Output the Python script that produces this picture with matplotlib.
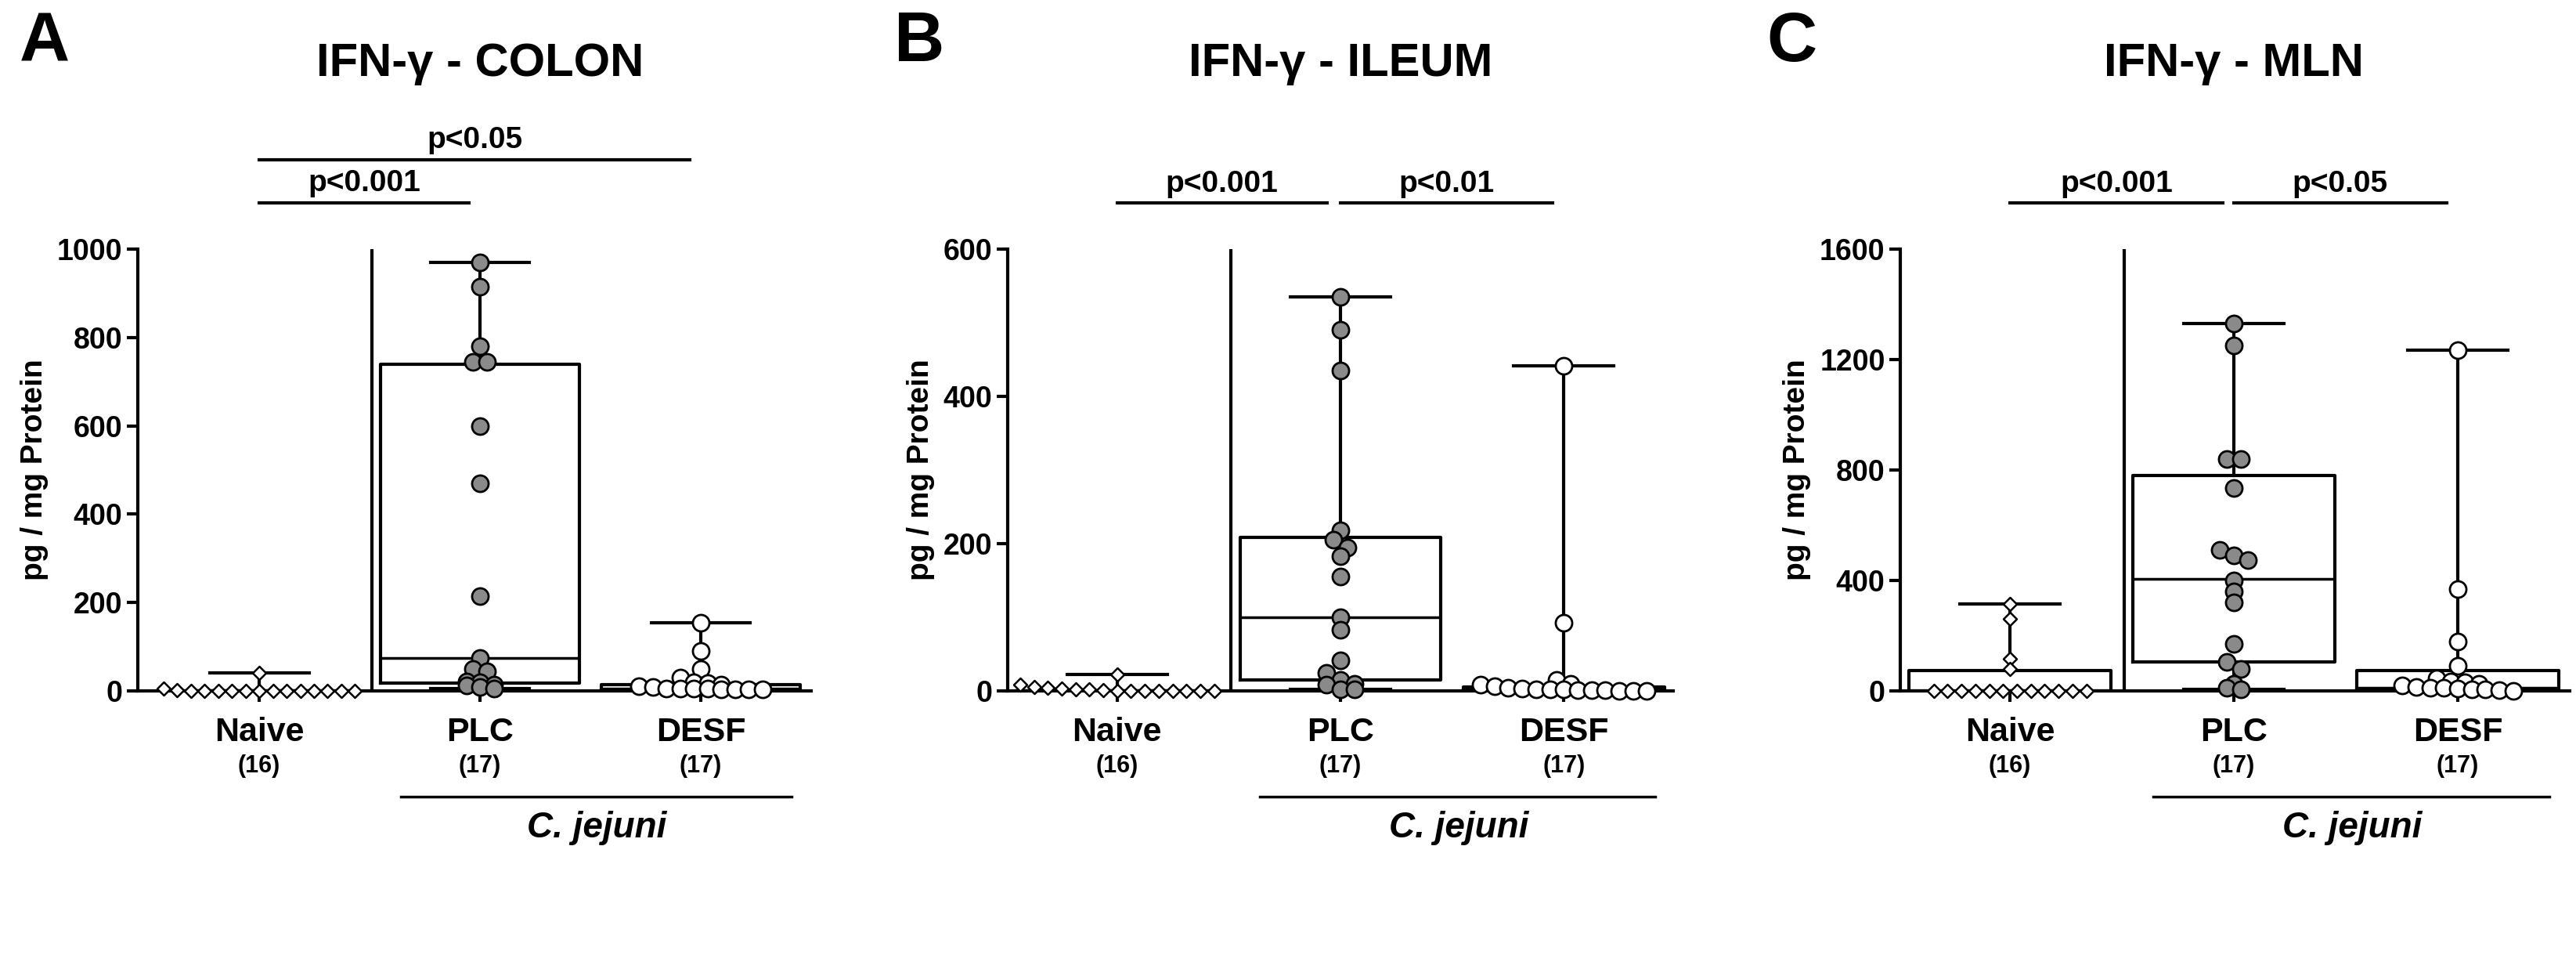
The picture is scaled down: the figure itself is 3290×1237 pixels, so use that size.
import matplotlib
matplotlib.use("Agg")
import matplotlib.pyplot as plt
import numpy as np
from matplotlib.transforms import blended_transform_factory as btf

plt.rcParams['font.family'] = ['Liberation Sans', 'DejaVu Sans']
plt.rcParams['font.weight'] = 'bold'

categories = ["Naive", "PLC", "DESF"]
counts = ["(16)", "(17)", "(17)"]
titles = ["IFN-\u03b3 - COLON", "IFN-\u03b3 - ILEUM", "IFN-\u03b3 - MLN"]
letters = ["A", "B", "C"]
ymax = [1000, 600, 1600]
yticks = [[0, 200, 400, 600, 800, 1000], [0, 200, 400, 600], [0, 400, 800, 1200, 1600]]

# raw points
colon_naive = [40, 5, 2] + [0] * 13
colon_plc = [970, 915, 780, 745, 745, 600, 470, 215, 75, 50, 45, 22, 20, 15, 12, 8, 5]
colon_desf = [155, 90, 50, 30, 20, 18, 15, 10, 8, 6, 5, 5, 5, 4, 4, 3, 3]
ileum_naive = [22, 8, 5, 4, 3, 2, 2, 1] + [0] * 8
ileum_plc = [535, 490, 435, 218, 205, 195, 183, 155, 100, 83, 42, 25, 15, 10, 8, 2, 2]
ileum_desf = [442, 93, 15, 10, 8, 6, 4, 3, 2, 2, 2, 1, 1, 1, 0, 0, 0]
mln_naive = [315, 260, 115, 80] + [0] * 12
mln_plc = [1330, 1250, 840, 840, 735, 510, 490, 475, 400, 360, 320, 170, 105, 80, 25, 10, 5]
mln_desf = [1235, 370, 180, 90, 45, 35, 30, 25, 20, 15, 10, 10, 8, 5, 5, 2, 0]

# box stats: whislo, q1, median, q3, whishi
colon_box = [[0, 0, 0, 0, 40], [5, 18, 75, 740, 970], [0, 2, 5, 15, 155]]
ileum_box = [[0, 0, 0, 0, 22], [2, 15, 100, 208, 535], [0, 1, 2, 5, 442]]
mln_box = [[0, 0, 0, 75, 315], [5, 105, 405, 780, 1330], [0, 5, 12, 75, 1235]]

points = [[colon_naive, colon_plc, colon_desf],
          [ileum_naive, ileum_plc, ileum_desf],
          [mln_naive, mln_plc, mln_desf]]
boxes = [colon_box, ileum_box, mln_box]

# significance: (x1, x2, y_axes, text)
sigs = [[(0, 0.95, 1.105, "p<0.001"), (0, 1.95, 1.203, "p<0.05")],
        [(0, 0.94, 1.104, "p<0.001"), (1.0, 1.95, 1.104, "p<0.01")],
        [(0, 0.95, 1.104, "p<0.001"), (1.0, 1.95, 1.104, "p<0.05")]]

axes_pos = [(176, 1036, -0.55, 2.5), (1287, 2137, -0.49, 2.49), (2427, 3282, -0.49, 2.5)]
letter_x = [25, 1142, 2256]
W, H = 3291, 1237

fig = plt.figure(figsize=(W / 100, H / 100), dpi=100)
bottom = 1 - 882 / H
top = 1 - 318 / H


def offsets(vals, ym):
    vals = np.asarray(vals, float)
    bins = np.round(vals / (ym * 0.028)).astype(int)
    off = np.zeros(len(vals))
    for b in np.unique(bins):
        idx = np.where(bins == b)[0]
        n = len(idx)
        off[idx] = (np.arange(n) - (n - 1) / 2) * 0.062
    return off


for p in range(3):
    l, r, x0, x1 = axes_pos[p]
    ax = fig.add_axes([l / W, bottom, (r - l) / W, top - bottom])

    stats = []
    for i, b in enumerate(boxes[p]):
        stats.append(dict(whislo=b[0], q1=b[1], med=b[2], q3=b[3], whishi=b[4], fliers=[]))
    ax.bxp(stats, positions=[0, 1, 2], widths=0.9, showfliers=False, manage_ticks=False,
           boxprops=dict(linewidth=3, color='black'),
           medianprops=dict(linewidth=2.5, color='black'),
           whiskerprops=dict(linewidth=3, color='black'),
           capprops=dict(linewidth=3, color='black'), capwidths=0.45, zorder=2)

    ax.set_xlim(x0, x1)
    ax.set_ylim(0, ymax[p])
    for s in ['top', 'right']:
        ax.spines[s].set_visible(False)
    ax.spines['left'].set_linewidth(3)
    ax.spines['bottom'].set_linewidth(3)
    ax.set_yticks(yticks[p])
    ax.set_yticklabels([str(v) for v in yticks[p]], fontweight='bold')
    ax.tick_params(axis='y', width=3, length=10, labelsize=27, pad=4)
    ax.tick_params(axis='x', width=3, length=10, labelsize=31, pad=14)
    ax.set_xticks([0, 1, 2])
    ax.set_xticklabels(categories, fontweight='bold')
    ax.set_ylabel("pg / mg Protein", fontsize=28, fontweight='bold', labelpad=8)

    for i in range(3):
        v = points[p][i]
        xo = i + offsets(v, ymax[p])
        if i == 0:
            ax.scatter(xo, v, marker='D', s=75, facecolor='white', edgecolor='black',
                       linewidth=1.8, zorder=4, clip_on=False)
        else:
            fc = '#8a8a8a' if i == 1 else 'white'
            ax.scatter(xo, v, marker='o', s=230, facecolor=fc, edgecolor='black',
                       linewidth=2, zorder=4, clip_on=False)

    ax.plot([0.51, 0.51], [0, ymax[p]], color='black', lw=3)

    tr = btf(ax.transData, ax.transAxes)
    for x1s, x2s, ya, txt in sigs[p]:
        ax.plot([x1s, x2s], [ya, ya], color='black', lw=3, transform=tr, clip_on=False)
        ax.text((x1s + x2s) / 2, ya + 0.012, txt, transform=tr, ha='center', va='bottom',
                fontsize=28, fontweight='bold')
    for i in range(3):
        ax.text(i, -0.17, counts[i], transform=tr, ha='center', va='center',
                fontsize=22, fontweight='bold')
    ax.plot([0.64, 2.41], [-0.24, -0.24], color='black', lw=2.5, transform=tr, clip_on=False)
    ax.text(1.53, -0.31, "C. jejuni", transform=tr, ha='center', va='center',
            fontsize=33, fontweight='bold', style='italic')
    ax.text(1.0, 1.42, titles[p], transform=tr, ha='center', va='center',
            fontsize=43, fontweight='bold')
    fig.text(letter_x[p] / W, 1 - 55 / H, letters[p], ha='left', va='center',
             fontsize=64, fontweight='bold')

fig.savefig("out.png", dpi=100)
